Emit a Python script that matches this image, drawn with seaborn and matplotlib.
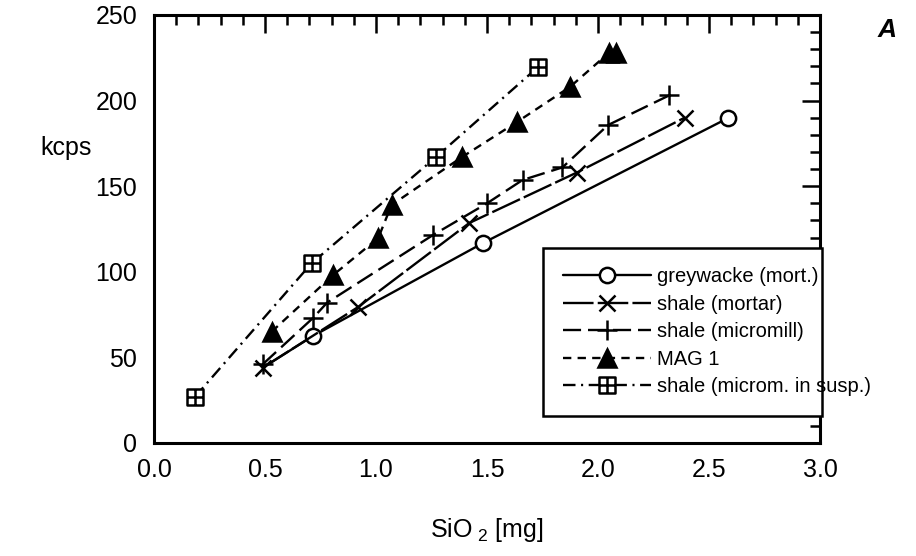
import matplotlib
matplotlib.use("Agg")
import matplotlib.pyplot as plt
import seaborn as sns
from matplotlib.path import Path
from matplotlib.lines import Line2D
from matplotlib.ticker import MultipleLocator

# ---- data ----
greywacke_x = [0.49, 0.716, 1.482, 2.586]
greywacke_y = [44, 62.5, 116.8, 189.8]
mortar_x = [0.49, 0.919, 1.42, 1.905, 2.39]
mortar_y = [44, 79.4, 128.5, 158, 190]
micromill_x = [0.49, 0.716, 0.78, 1.257, 1.50, 1.66, 1.84, 2.045, 2.32]
micromill_y = [46, 73, 82, 121.5, 140, 153.6, 161, 185.7, 203]
mag1_x = [0.53, 0.806, 1.01, 1.07, 1.387, 1.635, 1.874, 2.05, 2.08]
mag1_y = [65, 98, 119.7, 139, 167, 187.5, 208, 228, 228]
susp_x = [0.185, 0.71, 1.27, 1.73]
susp_y = [27, 105, 167, 219.6]

labels = ["greywacke (mort.)", "shale (mortar)", "shale (micromill)",
          "MAG 1", "shale (microm. in susp.)"]
x_ticks = [0.0, 0.5, 1.0, 1.5, 2.0, 2.5, 3.0]
y_ticks = [0, 50, 100, 150, 200, 250]

sns.set_theme(style="white")
plt.rcParams["font.family"] = ["Liberation Sans", "DejaVu Sans"]
plt.rcParams["mathtext.fontset"] = "custom"
plt.rcParams["mathtext.rm"] = "Liberation Sans"
plt.rcParams["lines.scale_dashes"] = False

# square with cross marker
sq = Path([(-1, -1), (1, -1), (1, 1), (-1, 1), (-1, -1),
           (0, -1), (0, 1), (-1, 0), (1, 0)],
          [Path.MOVETO, Path.LINETO, Path.LINETO, Path.LINETO, Path.CLOSEPOLY,
           Path.MOVETO, Path.LINETO, Path.MOVETO, Path.LINETO])

fig = plt.figure(figsize=(9.16, 5.56), dpi=100)
ax = fig.add_axes([154 / 916, 1 - 443 / 556, 666 / 916, 428 / 556])

lw = 1.7
styles = [
    dict(ls="-", marker="o", ms=11, mfc="white"),
    dict(ls=(0, (22, 3)), marker="x", ms=11, mfc="black"),
    dict(ls=(0, (13, 5)), marker="+", ms=14, mfc="black"),
    dict(ls=(0, (6, 4.5)), marker="^", ms=13, mfc="black"),
    dict(ls=(0, (9, 4, 1.5, 4)), marker=sq, ms=12, mfc="white"),
]
series = [(greywacke_x, greywacke_y, [1, 2, 3]),
          (mortar_x, mortar_y, None),
          (micromill_x, micromill_y, None),
          (mag1_x, mag1_y, None),
          (susp_x, susp_y, None)]

for (xs, ys, mevery), st in zip(series, styles):
    sns.lineplot(x=xs, y=ys, ax=ax, color="black", lw=lw, linestyle=st["ls"],
                 marker=st["marker"], ms=st["ms"], mfc=st["mfc"], mec="black",
                 mew=1.8, estimator=None, sort=False, markevery=mevery,
                 legend=False)

ax.set_xlim(0, 3.0)
ax.set_ylim(0, 250)
ax.set_xticks(x_ticks)
ax.set_xticklabels([f"{v:.1f}" for v in x_ticks])
ax.set_yticks(y_ticks)
ax.set_yticklabels([str(v) for v in y_ticks])
ax.xaxis.set_minor_locator(MultipleLocator(0.1))
ax.yaxis.set_minor_locator(MultipleLocator(10))
ax.tick_params(which="both", direction="in", top=True, right=True,
               color="black", width=1.8, labelsize=18, labelcolor="black")
ax.tick_params(which="major", length=13)
ax.tick_params(which="minor", length=7)
ax.tick_params(axis="x", pad=11)
ax.tick_params(axis="y", pad=12)
for s in ax.spines.values():
    s.set_color("black")
    s.set_linewidth(2.2)
    s.set_visible(True)

ax.set_ylabel("kcps", rotation=0, fontsize=18, color="black",
              va="center", ha="center")
ax.yaxis.set_label_coords(-0.132, 0.69)
ax.set_xlabel("SiO$_{\\ 2}$ [mg]", fontsize=18, color="black", labelpad=24)

handles = [Line2D([], [], color="black", lw=lw, linestyle=st["ls"],
                  marker=st["marker"], ms=st["ms"], mfc=st["mfc"],
                  mec="black", mew=1.8) for st in styles]
leg = ax.legend(handles, labels, loc="lower left",
                bbox_to_anchor=(0.584, 0.063, 0.419, 0.404), mode="expand",
                borderaxespad=0, fontsize=14.5, handlelength=4.4,
                handletextpad=0.3, labelspacing=0.42, borderpad=0.98,
                frameon=True, fancybox=False, framealpha=1, edgecolor="black")
leg.get_frame().set_linewidth(1.8)
for t in leg.get_texts():
    t.set_color("black")

fig.text(887 / 916, 1 - 30 / 556, "A", fontsize=19, fontweight="bold",
         fontstyle="italic", ha="center", va="center", color="black")

fig.savefig("out.png", dpi=100, facecolor="white")
